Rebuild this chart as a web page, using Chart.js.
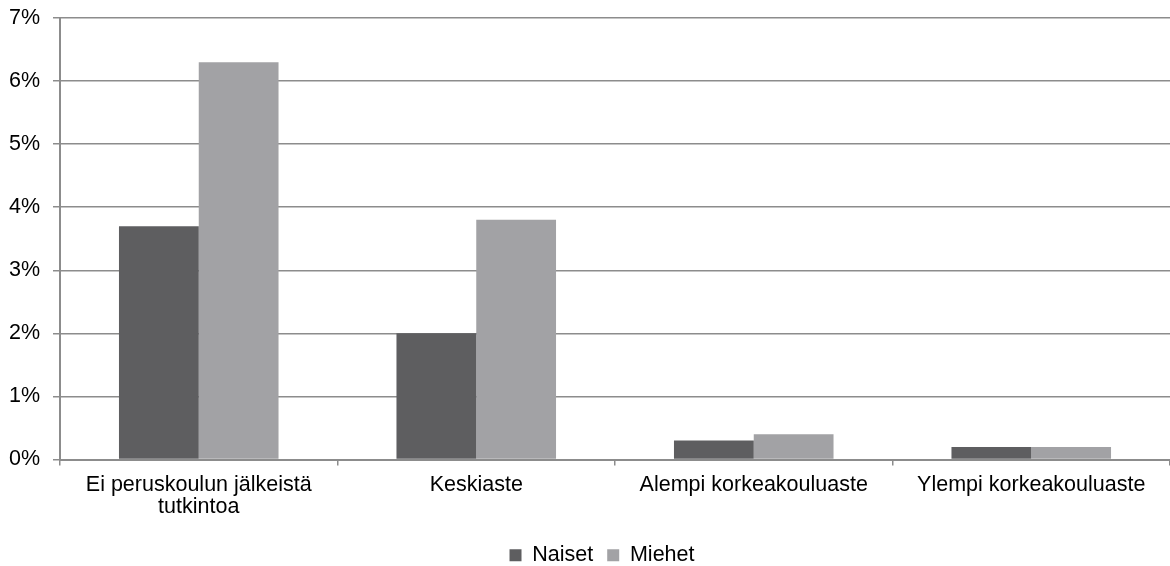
<!DOCTYPE html>
<html>
<head>
<meta charset="utf-8">
<script src="https://cdn.jsdelivr.net/npm/chart.js@4/dist/chart.umd.min.js"></script>
<style>
  html, body { margin: 0; padding: 0; background: #fff; }
  #wrap { width: 1170px; height: 566px; position: relative; }
</style>
</head>
<body>
<div id="wrap"><canvas id="chart"></canvas></div>
<script>
const categories = [
    ["Ei peruskoulun jälkeistä", "tutkintoa"],
    "Keskiaste",
    "Alempi korkeakouluaste",
    "Ylempi korkeakouluaste"
];
const naiset = [3.7, 2.0, 0.3, 0.2];
const miehet = [6.3, 3.8, 0.4, 0.2];
const yTicks = [0, 1, 2, 3, 4, 5, 6, 7];

const FONT = "'Liberation Sans', Arial, sans-serif";
const GRID = "#8c8c8c";

// the legend in the original sits a bit right of the canvas centre
const legendShift = {
    id: "legendShift",
    afterLayout(chart) {
        if (chart.legend) chart.legend.left = 34;
    }
};

const ctx = document.getElementById("chart").getContext("2d");

new Chart(ctx, {
    type: "bar",
    data: {
        labels: categories,
        datasets: [
            {
                label: "Naiset",
                data: naiset,
                backgroundColor: "#5e5e60",
                borderWidth: 0,
                barPercentage: 1.0,
                categoryPercentage: 0.575,
            },
            {
                label: "Miehet",
                data: miehet,
                backgroundColor: "#a2a2a5",
                borderWidth: 0,
                barPercentage: 1.0,
                categoryPercentage: 0.575,
            }
        ]
    },
    plugins: [legendShift],
    options: {
        responsive: true,
        maintainAspectRatio: false,
        animation: false,
        layout: { padding: { top: 18, right: 0, bottom: -10, left: 0 } },
        plugins: {
            tooltip: { enabled: false },
            legend: {
                position: "bottom",
                labels: {
                    color: "#000",
                    boxWidth: 12,
                    boxHeight: 12,
                    padding: 14,
                    font: { family: FONT, size: 21.5 }
                }
            }
        },
        scales: {
            x: {
                grid: {
                    drawOnChartArea: false,
                    drawTicks: true,
                    tickLength: 6,
                    color: GRID,
                    lineWidth: 1.5,
                    offset: true
                },
                border: { color: GRID, width: 2 },
                ticks: {
                    color: "#000",
                    padding: 8,
                    maxRotation: 0,
                    autoSkip: false,
                    font: { family: FONT, size: 21.5, lineHeight: 1.05 }
                },
                afterFit(scale) { scale.height = 71; }
            },
            y: {
                min: 0,
                max: 7,
                afterBuildTicks(scale) {
                    scale.ticks = yTicks.map(v => ({ value: v }));
                },
                grid: {
                    color: GRID,
                    lineWidth: 1.5,
                    tickLength: 7
                },
                border: { color: GRID, width: 2 },
                ticks: {
                    color: "#000",
                    padding: 13,
                    font: { family: FONT, size: 21.5 },
                    callback: v => v + "%"
                },
                afterFit(scale) {
                    scale.width = 60;
                    scale.paddingTop = 0;
                    scale.paddingBottom = 0;
                }
            }
        }
    }
});
</script>
</body>
</html>
